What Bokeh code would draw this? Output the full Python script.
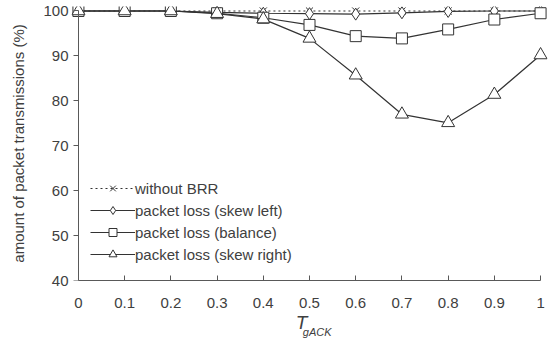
from bokeh.plotting import figure
from bokeh.models import Range1d, FixedTicker, Legend, LinearAxis
from bokeh.embed import file_html
from bokeh.resources import INLINE

t_gack = [0, 0.1, 0.2, 0.3, 0.4, 0.5, 0.6, 0.7, 0.8, 0.9, 1.0]
without_brr = [100, 100, 100, 100, 100, 100, 100, 100, 100, 100, 100]
skew_left = [100, 100, 100, 99.7, 99.5, 99.4, 99.3, 99.6, 99.9, 100, 100]
balance = [100, 100, 100, 99.5, 98.5, 96.9, 94.4, 93.9, 95.9, 98.1, 99.5]
skew_right = [100, 100, 100, 99.4, 98.2, 93.9, 85.7, 77.0, 75.1, 81.4, 90.2]
x_ticks = [0, 0.1, 0.2, 0.3, 0.4, 0.5, 0.6, 0.7, 0.8, 0.9, 1.0]
y_ticks = [40, 50, 60, 70, 80, 90, 100]

FONT = "Liberation Sans"
TXT = "#404040"
AX = "#595959"
NB = "\u00a0"

p = figure(frame_width=476, frame_height=274, output_backend="svg", toolbar_location=None,
           x_range=Range1d(-0.015, 1.015), y_range=Range1d(40, 101),
           min_border_left=71, min_border_right=1, min_border_top=6, min_border_bottom=40)
p.outline_line_color = None
p.xgrid.grid_line_color = None
p.ygrid.grid_line_color = None
p.background_fill_color = "white"

# x axis
p.xaxis.ticker = FixedTicker(ticks=x_ticks)
p.xaxis.major_label_overrides = {0: "0", 1: "1"}
p.xaxis.bounds = (0, 1)
p.xaxis.axis_line_color = AX
p.xaxis.major_tick_line_color = AX
p.xaxis.minor_tick_line_color = None
p.xaxis.major_label_text_font = FONT
p.xaxis.major_label_text_font_size = "15px"
p.xaxis.major_label_text_color = TXT
p.xaxis.major_tick_in = 5
p.xaxis.major_tick_out = 0
p.xaxis.major_label_standoff = 17

# y axis: labels only (at frame edge)
p.yaxis.ticker = FixedTicker(ticks=y_ticks)
p.yaxis.axis_line_color = None
p.yaxis.major_tick_line_color = None
p.yaxis.minor_tick_line_color = None
p.yaxis.major_tick_in = 0
p.yaxis.major_tick_out = 0
p.yaxis.major_label_text_font = FONT
p.yaxis.major_label_text_font_size = "15px"
p.yaxis.major_label_text_color = TXT
p.yaxis.major_label_standoff = 3
p.yaxis.axis_label = "amount of packet transmissions (%)"
p.yaxis.axis_label_text_font = FONT
p.yaxis.axis_label_text_font_size = "15px"
p.yaxis.axis_label_text_font_style = "normal"
p.yaxis.axis_label_text_color = TXT
p.yaxis.axis_label_standoff = 13

# y axis line + ticks at x = 0 (no labels)
yline = LinearAxis(ticker=FixedTicker(ticks=y_ticks), fixed_location=0, bounds=(40, 100),
                   axis_line_color=AX, major_tick_line_color=AX, minor_tick_line_color=None,
                   major_tick_in=0, major_tick_out=5, major_label_standoff=0,
                   major_label_overrides={v: "" for v in y_ticks})
p.add_layout(yline, "left")

# x axis title T_gACK, built from two label-only axes
t_axis = LinearAxis(ticker=FixedTicker(ticks=[]),
                    axis_line_color=None, major_tick_line_color=None, minor_tick_line_color=None,
                    major_tick_in=0, major_tick_out=0, major_label_standoff=0,
                    axis_label="T" + NB * 3, axis_label_text_font=FONT, axis_label_text_font_size="19px",
                    axis_label_text_font_style="italic", axis_label_text_color=TXT,
                    axis_label_standoff=1)
p.add_layout(t_axis, "below")
sub_axis = LinearAxis(ticker=FixedTicker(ticks=[]),
                      axis_line_color=None, major_tick_line_color=None, minor_tick_line_color=None,
                      major_tick_in=0, major_tick_out=0, major_label_standoff=0,
                      axis_label=NB * 5 + "gACK", axis_label_text_font=FONT, axis_label_text_font_size="11px",
                      axis_label_text_font_style="italic", axis_label_text_color=TXT,
                      axis_label_standoff=-10)
p.add_layout(sub_axis, "below")

LC = "#333333"
r1l = p.line(t_gack, without_brr, line_color=LC, line_dash="2 3", line_width=1.2)
r1m = p.scatter(t_gack, without_brr, marker="x", size=10, line_color=LC, line_width=1)
r2l = p.line(t_gack, skew_left, line_color=LC, line_width=1.2)
r2m = p.scatter(t_gack, skew_left, marker="diamond", size=12, line_color=LC, fill_color="white", line_width=1)
r3l = p.line(t_gack, balance, line_color=LC, line_width=1.2)
r3m = p.scatter(t_gack, balance, marker="square", size=11, line_color=LC, fill_color="white", line_width=1)
r4l = p.line(t_gack, skew_right, line_color=LC, line_width=1.2)
r4m = p.scatter(t_gack, skew_right, marker="triangle", size=13, line_color=LC, fill_color="white", line_width=1)

legend = Legend(items=[
    ("without BRR", [r1l, r1m]),
    ("packet loss (skew left)", [r2l, r2m]),
    ("packet loss (balance)", [r3l, r3m]),
    ("packet loss (skew right)", [r4l, r4m]),
], location=(19, 16))
legend.border_line_color = None
legend.background_fill_alpha = 0
legend.label_text_font = FONT
legend.label_text_font_size = "15px"
legend.label_text_color = TXT
legend.glyph_width = 45
legend.glyph_height = 20
legend.label_height = 20
legend.spacing = 2
legend.label_standoff = 0
legend.padding = 0
p.add_layout(legend, "center")

open("out.html", "w").write(file_html(p, INLINE))
